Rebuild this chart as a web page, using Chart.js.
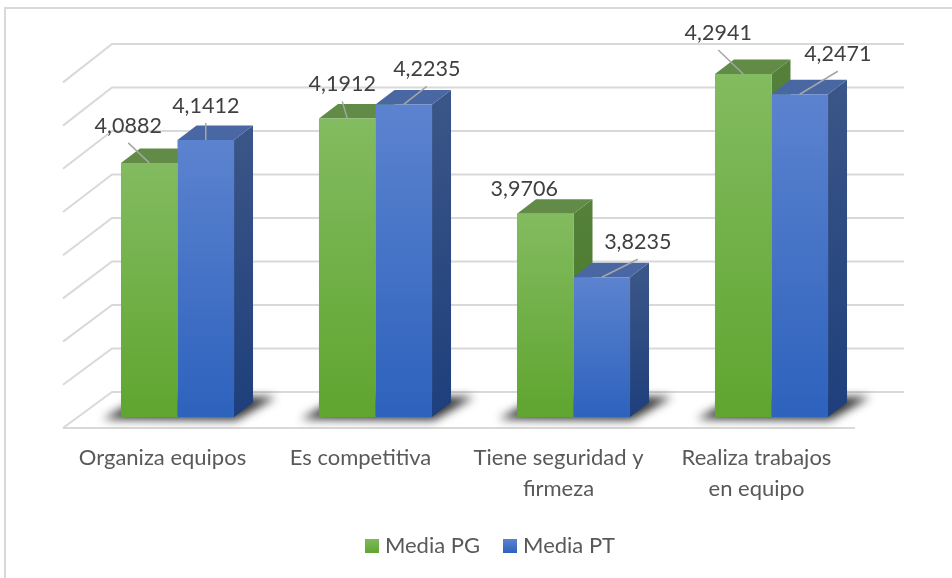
<!DOCTYPE html>
<html><head><meta charset="utf-8">
<style>html,body{margin:0;padding:0;background:#fff}#w{position:relative;width:952px;height:578px}</style>
<script src="https://cdn.jsdelivr.net/npm/chart.js@4/dist/chart.umd.min.js"></script>
</head><body><div id="w"><canvas id="c" width="952" height="578"></canvas></div>
<script>
const categories = [['Organiza equipos'], ['Es competitiva'], ['Tiene seguridad y', 'firmeza'], ['Realiza trabajos', 'en equipo']];
const seriesNames = ['Media PG', 'Media PT'];
const mediaPG = [4.0882, 4.1912, 3.9706, 4.2941];
const mediaPT = [4.1412, 4.2235, 3.8235, 4.2471];
const axisMin = 3.5, axisMax = 4.3, axisStep = 0.1;
// label placement relative to the top-centre of each bar's front face
const labelOffsetsPG = [[-21, -37], [-5, -34], [-21, -25, true], [-25, -41]];
const labelOffsetsPT = [[0, -34], [23, -35], [36, -35], [38, -40]];

const palette = [
  {top:'#83BB60', bot:'#5FA52F', sideT:'#54803A', sideB:'#437D22', cap:'#618B46', swT:'#7FB95A', swB:'#60A633'},
  {top:'#5C83CF', bot:'#2D62BD', sideT:'#3A5587', sideB:'#1E3F7C', cap:'#4967A2', swT:'#5C83CF', swB:'#2D62BD'}
];
const depthX = 19, depthY = 14.5;
const wallBack = {dx: 33.5, dy: -25, stretch: 1.007}, wallFront = {dx: -15.5, dy: 11};
const FONT = 'Lato';

function swatch(p){
  const cv = document.createElement('canvas'); cv.width = 14; cv.height = 14;
  const g = cv.getContext('2d'); const l = g.createLinearGradient(0,0,0,14);
  l.addColorStop(0,p.swT); l.addColorStop(1,p.swB); g.fillStyle = l; g.fillRect(0,0,14,14);
  return cv;
}
const swatches = palette.map(swatch);

function frontFill(i){
  return (ctx) => {
    const chart = ctx.chart;
    if (!chart.chartArea || ctx.raw === undefined) return palette[i].top;
    const y = chart.scales.y;
    const g = chart.ctx.createLinearGradient(0, y.getPixelForValue(ctx.raw), 0, y.bottom);
    g.addColorStop(0, palette[i].top); g.addColorStop(1, palette[i].bot);
    return g;
  };
}
function poly(c, pts, fill){
  c.beginPath(); pts.forEach((p,i)=> i ? c.lineTo(p[0],p[1]) : c.moveTo(p[0],p[1])); c.closePath();
  c.fillStyle = fill; c.fill();
}
const threeD = {
  id:'threeD',
  afterLayout(chart){
    const l = chart.legend; if (l){ l.left += 18; l.right += 18; }
  },
  beforeDatasetsDraw(chart){
    const c = chart.ctx, ys = chart.scales.y, a = chart.chartArea;
    c.save(); c.strokeStyle = '#D9D9D9'; c.lineWidth = 2; c.lineCap = 'butt';
    ys.ticks.forEach((t, k)=>{
      const y = ys.getPixelForValue(t.value);
      const yBack = ys.bottom - (ys.bottom - y) * wallBack.stretch + wallBack.dy;
      c.beginPath();
      c.moveTo(a.left+wallFront.dx, y+wallFront.dy);
      c.lineTo(a.left+wallBack.dx, yBack);
      c.lineTo(a.right+wallBack.dx, yBack);
      if (k === 0){ c.moveTo(a.left+wallFront.dx, y+wallFront.dy); c.lineTo(a.right+wallFront.dx, y+wallFront.dy); }
      c.stroke();
    });
    c.restore();
    const m0 = chart.getDatasetMeta(0).data, m1 = chart.getDatasetMeta(1).data;
    const B = ys.bottom;
    c.save(); c.filter = 'blur(5px)'; 
    m0.forEach((b,i)=>{
      const L = b.x - b.width/2, R = m1[i].x + m1[i].width/2;
      poly(c, [[L-18,B+2],[R+2,B+3],[R+42,B-20],[L+22,B-20]], 'rgba(0,0,0,0.8)');
    });
    c.restore();
    [m0, m1].forEach((meta, s)=>{
      const p = palette[s];
      meta.forEach(b=>{
        const L = b.x - b.width/2, R = b.x + b.width/2, T = b.y;
        const g = c.createLinearGradient(0,T,0,B);
        g.addColorStop(0,p.sideT); g.addColorStop(1,p.sideB);
        poly(c, [[R,T],[R+depthX,T-depthY],[R+depthX,B-depthY],[R,B]], g);
        poly(c, [[L,T],[L+depthX,T-depthY],[R+depthX,T-depthY],[R,T]], p.cap);
      });
    });
  },
  afterDatasetsDraw(chart){
    const c = chart.ctx;
    [[0,labelOffsetsPG,mediaPG],[1,labelOffsetsPT,mediaPT]].forEach(([s,offs,vals])=>{
      chart.getDatasetMeta(s).data.forEach((b,i)=>{
        const o = offs[i], lx = b.x+o[0], ly = b.y+o[1];
        if (!o[2]){
          c.save(); c.strokeStyle='#A6A6A6'; c.lineWidth=1.5; c.beginPath();
          c.moveTo(b.x, b.y);
          c.lineTo(lx, ly+17);
          c.stroke(); c.restore();
        }
        c.save(); c.font = '21.5px '+FONT; c.fillStyle='#404040'; c.textAlign='center'; c.textBaseline='middle';
        c.fillText(vals[i].toFixed(4).replace('.',','), lx, ly);
        c.restore();
      });
    });
    c.save(); c.strokeStyle='#D9D9D9'; c.lineWidth=2; c.beginPath();
    c.moveTo(5,578); c.lineTo(5,8); c.lineTo(952,8); c.stroke(); c.restore();
  }
};

new Chart(document.getElementById('c'), {
  type:'bar',
  plugins:[threeD],
  data:{ labels:categories, datasets:[
    {label:seriesNames[0], data:mediaPG, backgroundColor:frontFill(0), borderWidth:0},
    {label:seriesNames[1], data:mediaPT, backgroundColor:frontFill(1), borderWidth:0}
  ]},
  options:{
    responsive:false, animation:false, events:[],
    layout:{padding:{left:78.5,right:81.5,top:71.4,bottom:11}},
    scales:{
      x:{ grid:{display:false}, border:{display:false},
          ticks:{font:{family:FONT,size:22,lineHeight:1.4},color:'#595959',labelOffset:-15,padding:18,maxRotation:0,autoSkip:false},
          afterFit(s){ s.height = 90; } },
      y:{ min:axisMin, max:axisMax, grid:{display:false}, border:{display:false},
          ticks:{display:false, stepSize:axisStep}, afterFit(s){ s.width = 0; } }
    },
    datasets:{bar:{categoryPercentage:0.571, barPercentage:1}},
    plugins:{
      tooltip:{enabled:false},
      legend:{position:'bottom',labels:{
        font:{family:FONT,size:22},color:'#595959',usePointStyle:true,pointStyleWidth:4,padding:28,
        generateLabels:(chart)=>seriesNames.map((t,i)=>({text:t,datasetIndex:i,pointStyle:swatches[i],fontColor:'#595959',hidden:false,lineWidth:0}))
      }}
    }
  }
});
</script></body></html>
